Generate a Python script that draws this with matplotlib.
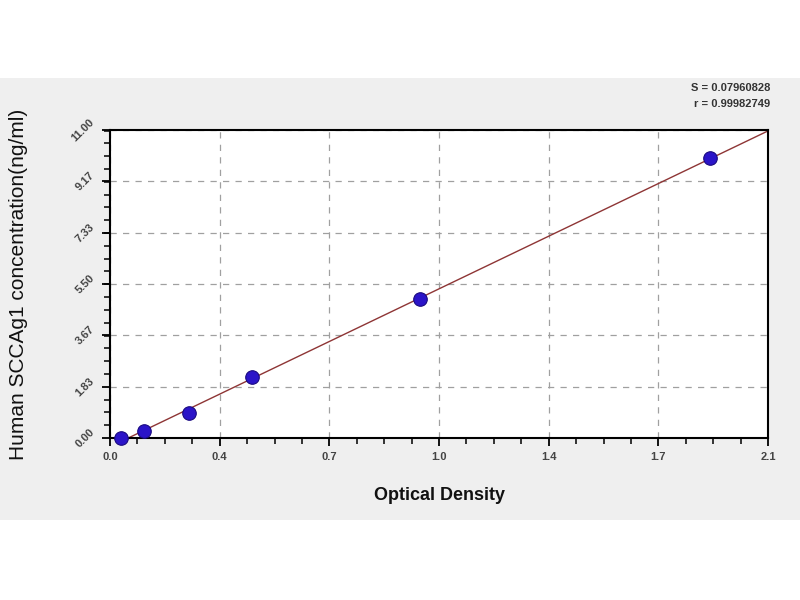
import numpy as np
import matplotlib
matplotlib.use('Agg')
import matplotlib.pyplot as plt
from matplotlib.ticker import AutoMinorLocator, FixedLocator
from matplotlib.patches import Rectangle

plt.rcParams['font.family'] = ['Liberation Sans', 'DejaVu Sans']

# data
od = [0.034, 0.110, 0.253, 0.453, 0.988, 1.915]
conc = [0.0, 0.26, 0.88, 2.19, 4.95, 10.0]

xticks = [0.0, 0.35, 0.7, 1.05, 1.4, 1.75, 2.1]
xlabels = ['0.0', '0.4', '0.7', '1.0', '1.4', '1.7', '2.1']
yticks = [0.0, 1.83, 3.67, 5.50, 7.33, 9.17, 11.00]
ylabels = ['0.00', '1.83', '3.67', '5.50', '7.33', '9.17', '11.00']

s_text = 'S = 0.07960828'
r_text = 'r = 0.99982749'

fig = plt.figure(figsize=(8, 6), dpi=100)
fig.patch.set_facecolor('white')
# grey band behind the chart
fig.patches.append(Rectangle((0, 80 / 600), 1, 442 / 600, transform=fig.transFigure,
                             facecolor='#efefef', edgecolor='none', zorder=-10))

ax = fig.add_axes([110 / 800, 162 / 600, 658 / 800, 308 / 600])
ax.set_facecolor('white')

# fit line, drawn from where it crosses zero
k, b = np.polyfit(od, conc, 1)
xx = np.linspace(-b / k, 2.1, 200)
ax.plot(xx, k * xx + b, color='#8e3535', lw=1.0, zorder=2)
ax.scatter(od, conc, s=95, color='#2b14c8', edgecolors='#1a0a80', linewidths=0.8,
           zorder=3, clip_on=False)

ax.set_xlim(0, 2.1)
ax.set_ylim(0, 11)
ax.xaxis.set_major_locator(FixedLocator(xticks))
ax.yaxis.set_major_locator(FixedLocator(yticks))
ax.set_xticklabels(xlabels, fontweight='bold')
ax.set_yticklabels(ylabels, rotation=45, va='center', ha='right', fontweight='bold')
ax.xaxis.set_minor_locator(AutoMinorLocator(4))
ax.yaxis.set_minor_locator(AutoMinorLocator(4))
ax.tick_params(which='major', direction='out', length=6, width=1.3, labelsize=8,
               labelcolor='#444444', pad=4)
ax.tick_params(which='minor', direction='out', length=4, width=1.1)
ax.grid(True, which='major', ls=(0, (5, 5)), color='#a0a0a0', lw=0.9)

for sp in ax.spines.values():
    sp.set_linewidth(1.5)

ax.set_xlabel('Optical Density', fontsize=13, fontweight='bold', labelpad=18,
              color='#111111')
ax.set_ylabel('Human SCCAg1 concentration(ng/ml)', fontsize=15, color='#111111')
ax.yaxis.set_label_coords(-0.125, 0.5)

fig.text(770 / 800, 1 - 88 / 600, s_text, ha='right', va='center', fontsize=8,
         fontweight='bold', color='#333333')
fig.text(770 / 800, 1 - 104 / 600, r_text, ha='right', va='center', fontsize=8,
         fontweight='bold', color='#333333')

fig.savefig('out.png', dpi=100)
